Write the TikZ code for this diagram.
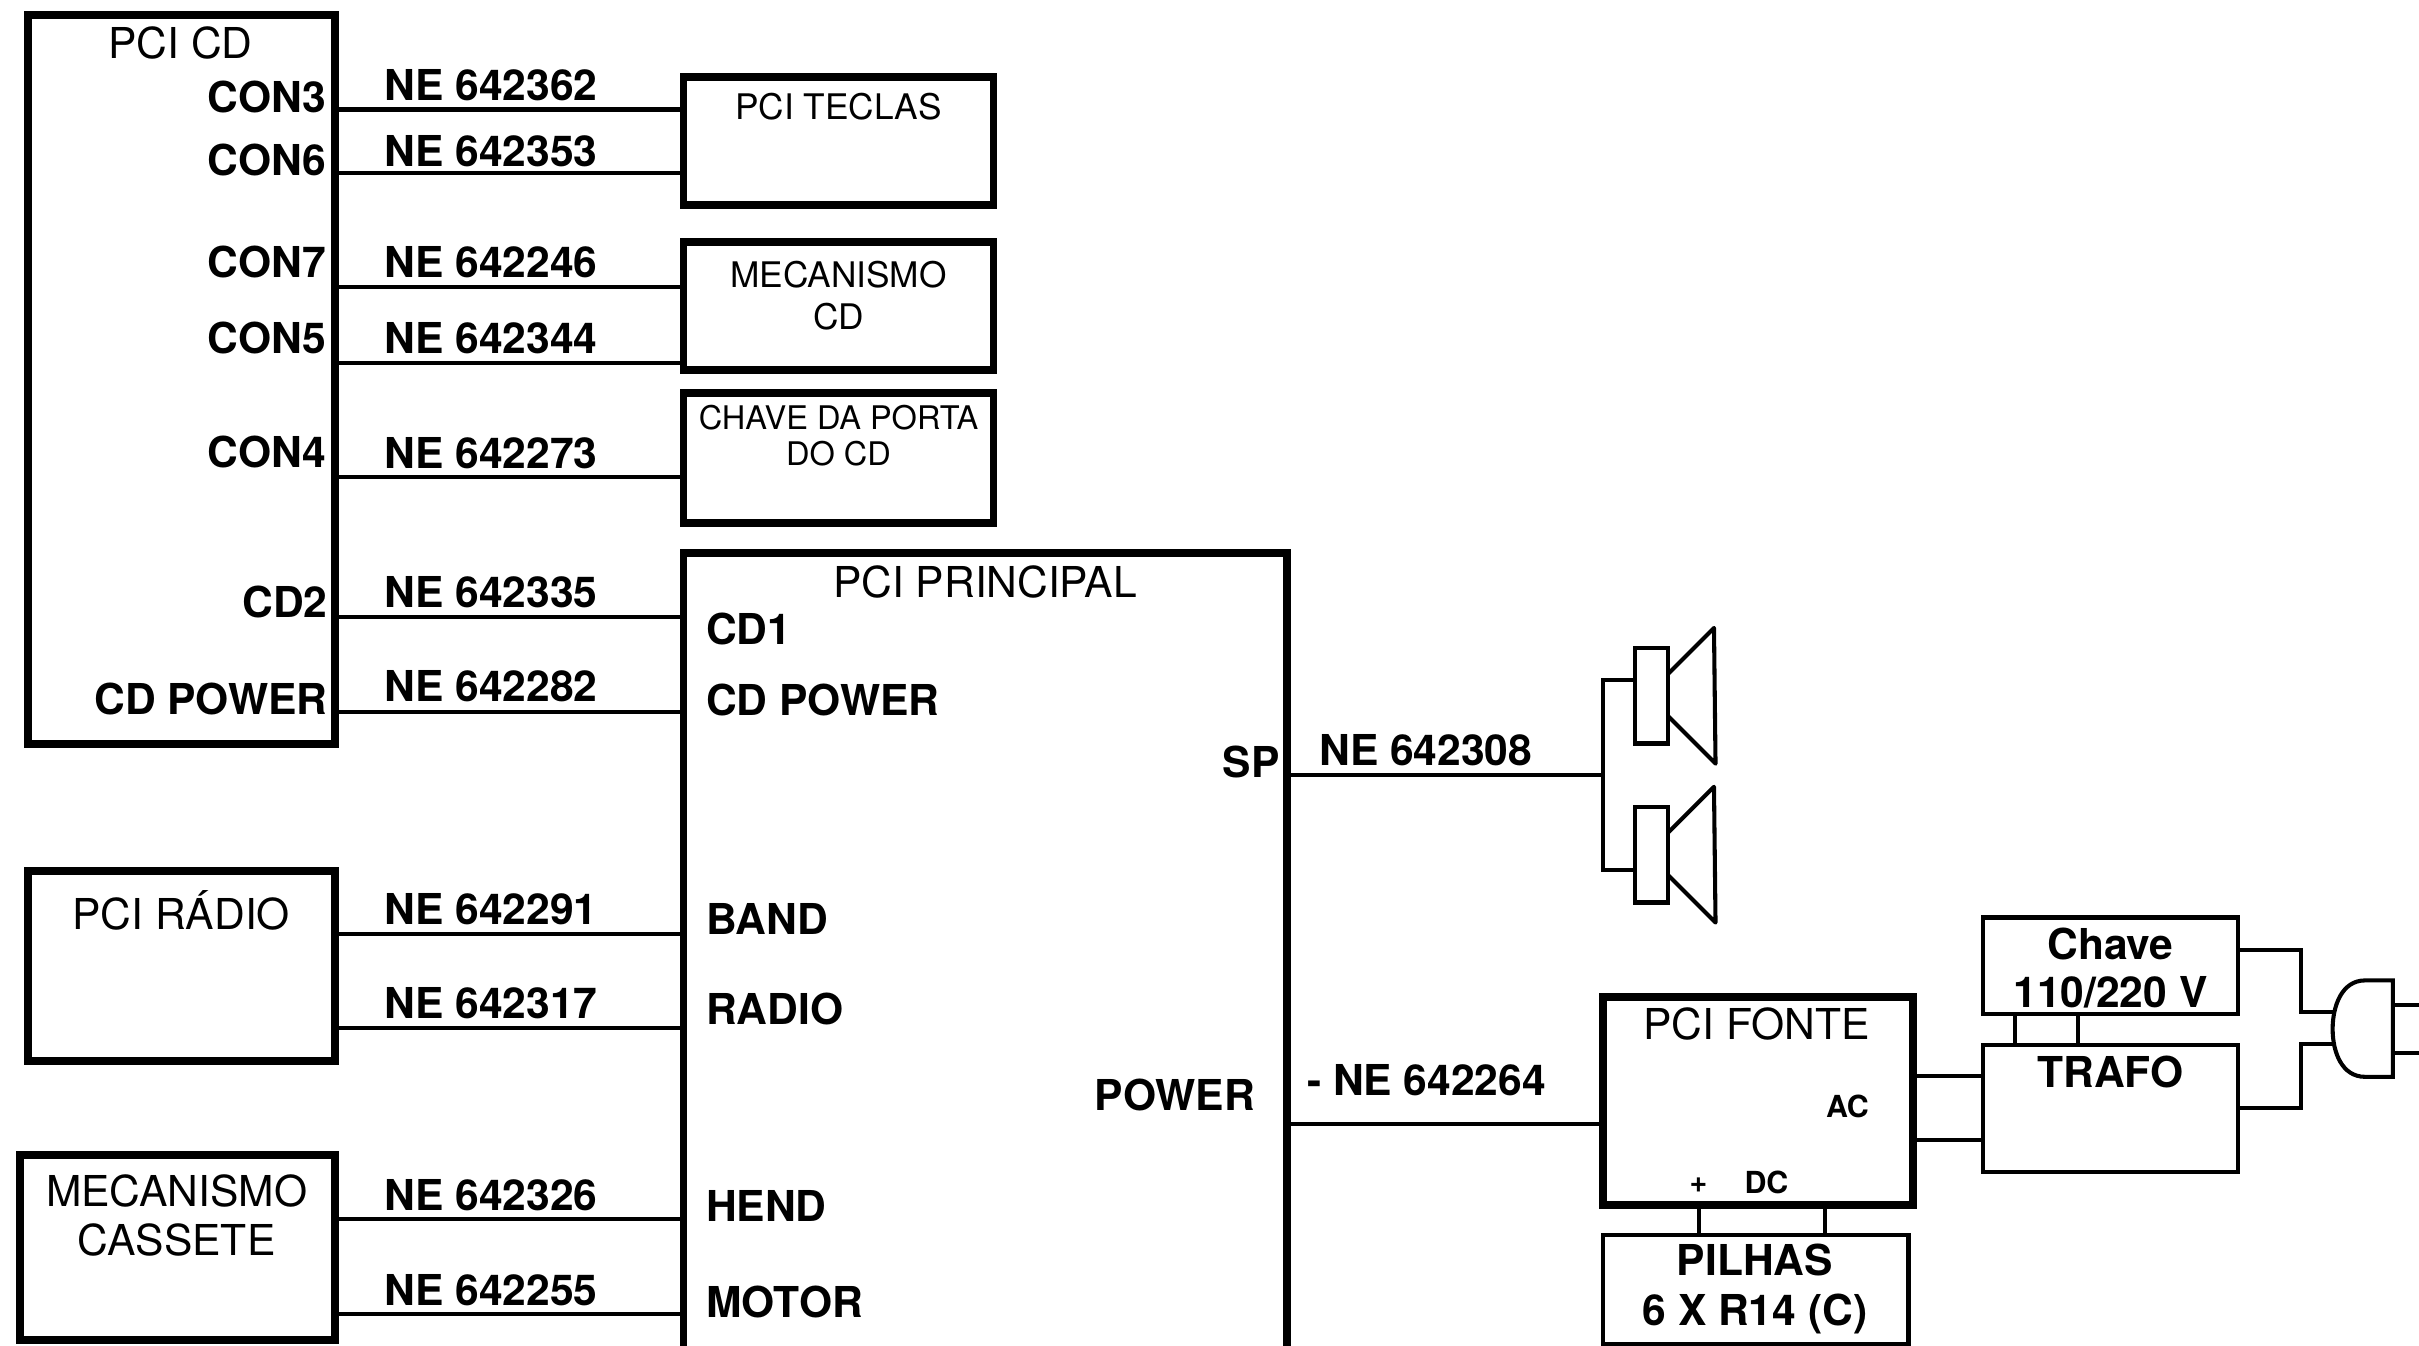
\documentclass[tikz,border=0pt]{standalone}
\usepackage{fontspec}
\setmainfont{TeX Gyre Heros}
\usepackage{tikz}
\newcommand{\fsize}[1]{\fontsize{#1}{#1}\selectfont}
\tikzset{
  box/.style={draw,line width=1.45pt,inner sep=0pt,outer sep=0pt},
  thinbox/.style={draw,line width=0.8pt,inner sep=0pt,outer sep=0pt},
  wire/.style={line width=0.75pt},
  title/.style={inner sep=0pt,font=\fsize{7.85}},
  midtitle/.style={inner sep=0pt,font=\fsize{6.5}},
  smalltitle/.style={inner sep=0pt,font=\fsize{6}},
  pin/.style={inner sep=0pt,font=\fsize{7.85}\bfseries},
  tinypin/.style={inner sep=0pt,font=\fsize{5.6}\bfseries}
}

\begin{document}
\begin{tikzpicture}[y=-1cm]
  \useasboundingbox (0,0) rectangle (15.68,8.72);
  \clip (0,0) rectangle (15.68,8.72);

  % boxes
  \node[box,minimum width=1.99cm,minimum height=4.72cm] (pcicd) at (1.175,2.46) {};
  \node[box,minimum width=2.01cm,minimum height=0.83cm] (teclas) at (5.435,0.915) {};
  \node[box,minimum width=2.01cm,minimum height=0.83cm] (mecacd) at (5.435,1.985) {};
  \node[box,minimum width=2.01cm,minimum height=0.84cm] (porta) at (5.435,2.97) {};
  \node[box,minimum width=3.91cm,minimum height=5.4cm] (principal) at (6.385,6.285) {};
  \node[box,minimum width=1.99cm,minimum height=1.23cm] (radio) at (1.175,6.26) {};
  \node[box,minimum width=2.04cm,minimum height=1.2cm] (cassete) at (1.15,8.085) {};
  \node[box,minimum width=2.01cm,minimum height=1.35cm] (fonte) at (11.395,7.135) {};
  \node[thinbox,minimum width=1.98cm,minimum height=0.71cm] (pilhas) at (11.38,8.36) {};
  \node[thinbox,minimum width=1.655cm,minimum height=0.82cm] (trafo) at (13.68,7.185) {};
  \node[thinbox,minimum width=1.655cm,minimum height=0.625cm] (chave) at (13.68,6.26) {};

  % box titles
  \node[title] (tcd) at (1.17,0.28) {PCI CD};
  \node[midtitle] (tteclas) at (5.435,0.69) {PCI TECLAS};
  \node[midtitle] (tmeca) at (5.435,1.78) {MECANISMO};
  \node[midtitle] (tmecb) at (5.435,2.05) {CD};
  \node[smalltitle] (tporta) at (5.435,2.71) {CHAVE DA PORTA};
  \node[smalltitle] (tportb) at (5.435,2.94) {DO CD};
  \node[title] (tprincipal) at (6.385,3.77) {PCI PRINCIPAL};
  \node[title] (tradio) at (1.175,5.9) {PCI RÁDIO};
  \node[title] (tcasa) at (1.145,7.72) {MECANISMO};
  \node[title] (tcasb) at (1.145,8.04) {CASSETE};
  \node[title] (tfonte) at (11.385,6.64) {PCI FONTE};
  \node[pin] (tpila) at (11.375,8.17) {PILHAS};
  \node[pin] (tpilb) at (11.375,8.52) {6 X R14 (C)};
  \node[pin] (ttrafo) at (13.68,6.95) {TRAFO};
  \node[pin] (tchaa) at (13.68,6.12) {Chave};
  \node[pin] (tchab) at (13.68,6.43) {110/220 V};

  % pins on the left boxes
  \node[pin,anchor=east] (con3) at (2.12,0.63) {CON3};
  \node[pin,anchor=east] (con6) at (2.12,1.04) {CON6};
  \node[pin,anchor=east] (con7) at (2.12,1.7) {CON7};
  \node[pin,anchor=east] (con5) at (2.12,2.19) {CON5};
  \node[pin,anchor=east] (con4) at (2.12,2.93) {CON4};
  \node[pin,anchor=east] (cd2) at (2.13,3.9) {CD2};
  \node[pin,anchor=east] (cdpower) at (2.13,4.53) {CD POWER};

  % pins on pci principal
  \node[pin,anchor=west] (cd1) at (4.57,4.08) {CD1};
  \node[pin,anchor=west] (pcdpower) at (4.57,4.54) {CD POWER};
  \node[pin,anchor=west] (band) at (4.57,5.96) {BAND};
  \node[pin,anchor=west] (prad) at (4.57,6.54) {RADIO};
  \node[pin,anchor=west] (hend) at (4.57,7.82) {HEND};
  \node[pin,anchor=west] (motor) at (4.57,8.44) {MOTOR};
  \node[pin,anchor=east] (sp) at (8.3,4.94) {SP};
  \node[pin,anchor=east] (power) at (8.14,7.1) {POWER};

  % pins on pci fonte
  \node[tinypin] (ac) at (11.975,7.17) {AC};
  \node[tinypin] (dc) at (11.45,7.665) {DC};
  \node[tinypin] (plus) at (11.01,7.68) {+};

  % wires
  \draw[wire] (pcicd.east |- 0,0.71) -- (teclas.west |- 0,0.71);
  \draw[wire] (pcicd.east |- 0,1.12) -- (teclas.west |- 0,1.12);
  \draw[wire] (pcicd.east |- 0,1.86) -- (mecacd.west |- 0,1.86);
  \draw[wire] (pcicd.east |- 0,2.355) -- (mecacd.west |- 0,2.355);
  \draw[wire] (pcicd.east |- 0,3.09) -- (porta.west |- 0,3.09);
  \draw[wire] (pcicd.east |- 0,4.0) -- (principal.west |- 0,4.0);
  \draw[wire] (pcicd.east |- 0,4.615) -- (principal.west |- 0,4.615);
  \draw[wire] (radio.east |- 0,6.055) -- (principal.west |- 0,6.055);
  \draw[wire] (radio.east |- 0,6.665) -- (principal.west |- 0,6.665);
  \draw[wire] (cassete.east |- 0,7.9) -- (principal.west |- 0,7.9);
  \draw[wire] (cassete.east |- 0,8.52) -- (principal.west |- 0,8.52);
  \draw[wire] (principal.east |- 0,7.285) -- (fonte.west |- 0,7.285);
  \draw[wire] (fonte.east |- 0,6.975) -- (trafo.west |- 0,6.975);
  \draw[wire] (fonte.east |- 0,7.39) -- (trafo.west |- 0,7.39);
  \draw[wire] (fonte.south -| 11.01,0) -- (pilhas.north -| 11.01,0);
  \draw[wire] (fonte.south -| 11.83,0) -- (pilhas.north -| 11.83,0);
  \draw[wire] (chave.south -| 13.06,0) -- (trafo.north -| 13.06,0);
  \draw[wire] (chave.south -| 13.47,0) -- (trafo.north -| 13.47,0);

  % cable numbers
  \node[pin,anchor=west] (w362) at (2.485,0.55) {NE 642362};
  \node[pin,anchor=west] (w353) at (2.485,0.98) {NE 642353};
  \node[pin,anchor=west] (w246) at (2.485,1.7) {NE 642246};
  \node[pin,anchor=west] (w344) at (2.485,2.19) {NE 642344};
  \node[pin,anchor=west] (w273) at (2.485,2.94) {NE 642273};
  \node[pin,anchor=west] (w335) at (2.485,3.84) {NE 642335};
  \node[pin,anchor=west] (w282) at (2.485,4.45) {NE 642282};
  \node[pin,anchor=west] (w291) at (2.485,5.89) {NE 642291};
  \node[pin,anchor=west] (w317) at (2.485,6.505) {NE 642317};
  \node[pin,anchor=west] (w326) at (2.485,7.75) {NE 642326};
  \node[pin,anchor=west] (w255) at (2.485,8.36) {NE 642255};
  \node[pin,anchor=west] (w308) at (8.545,4.865) {NE 642308};
  \node[pin,anchor=west] (w264) at (8.465,7.0) {- NE 642264};

  % speakers
  \node[thinbox,minimum width=0.21cm,minimum height=0.62cm] (spka) at (10.705,4.51) {};
  \node[thinbox,minimum width=0.21cm,minimum height=0.62cm] (spkb) at (10.705,5.54) {};
  \draw[wire,line join=round] (spka.east |- 0,4.37) -- (11.11,4.07) -- (11.12,4.95) -- (spka.east |- 0,4.64);
  \draw[wire,line join=round] (spkb.east |- 0,5.4) -- (11.11,5.1) -- (11.12,5.98) -- (spkb.east |- 0,5.67);
  \coordinate (spkjoin) at (10.39,5.025);
  \draw[wire] (principal.east |- spkjoin) -- (spkjoin);
  \draw[wire] (spka.west |- 0,4.405) -- (10.39,4.405) -- (10.39,5.64) -- (spkb.west |- 0,5.64);

  % plug
  \coordinate (plugtop) at (15.51,6.355);
  \coordinate (plugbot) at (15.51,6.98);
  \draw[wire] (plugtop) -- (15.33,6.355) .. controls (15.18,6.355) and (15.12,6.52) .. (15.12,6.67)
    .. controls (15.12,6.82) and (15.18,6.98) .. (15.33,6.98) -- (plugbot) -- cycle;
  \draw[wire] (plugtop |- 0,6.515) -- (15.68,6.515);
  \draw[wire] (plugtop |- 0,6.827) -- (15.68,6.827);
  \draw[wire] (chave.east |- 0,6.155) -- (14.914,6.155) -- (14.914,6.56) -- (15.128,6.56);
  \draw[wire] (trafo.east |- 0,7.18) -- (14.914,7.18) -- (14.914,6.77) -- (15.128,6.77);
\end{tikzpicture}
\end{document}
